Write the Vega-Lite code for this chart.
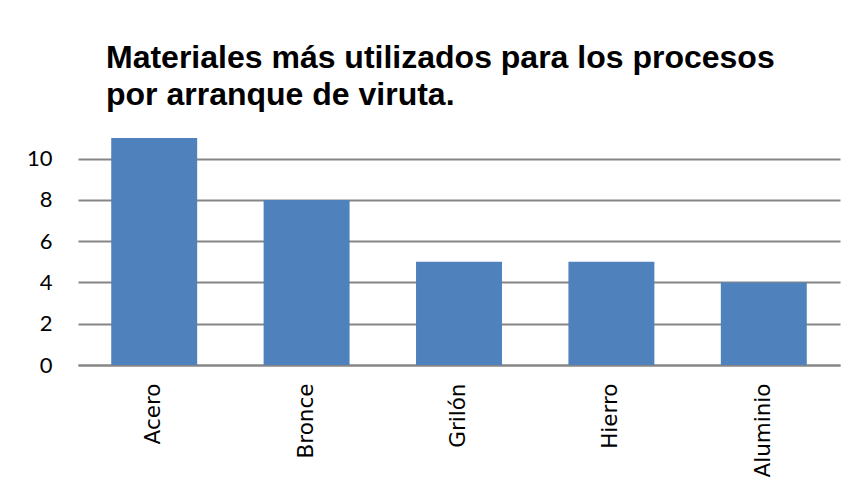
{
  "$schema": "https://vega.github.io/schema/vega-lite/v6.json",
  "width": 762,
  "height": 227,
  "autosize": "none",
  "padding": {"left": 78, "top": 138, "right": 18, "bottom": 124},
  "background": "white",
  "title": {
    "text": ["Materiales más utilizados para los procesos", "por arranque de viruta."],
    "anchor": "start",
    "frame": "group",
    "dx": 28,
    "font": "Liberation Sans",
    "fontSize": 32,
    "fontWeight": "bold",
    "color": "black",
    "lineHeight": 37,
    "baseline": "bottom",
    "offset": -6
  },
  "data": {
    "values": [
      {"Material": "Acero", "Cantidad": 11},
      {"Material": "Bronce", "Cantidad": 8},
      {"Material": "Grilón", "Cantidad": 5},
      {"Material": "Hierro", "Cantidad": 5},
      {"Material": "Aluminio", "Cantidad": 4}
    ]
  },
  "mark": {"type": "bar", "color": "#4F81BD"},
  "encoding": {
    "x": {
      "field": "Material",
      "type": "nominal",
      "sort": null,
      "scale": {"paddingInner": 0.436, "paddingOuter": 0.218},
      "axis": {
        "title": null,
        "labelAngle": -90,
        "labelAlign": "right",
        "labelBaseline": "middle",
        "labelFont": "DejaVu Sans",
        "labelFontSize": 21.5,
        "labelColor": "black",
        "ticks": false,
        "domainColor": "#868686",
        "domainWidth": 2,
        "labelPadding": 18,
        "grid": false
      }
    },
    "y": {
      "field": "Cantidad",
      "type": "quantitative",
      "scale": {"domain": [0, 11], "nice": false},
      "axis": {
        "title": null,
        "values": [0, 2, 4, 6, 8, 10],
        "domain": false,
        "ticks": false,
        "gridColor": "#868686",
        "gridWidth": 2,
        "labelFont": "Lato",
        "labelFontSize": 22,
        "labelColor": "black",
        "labelPadding": 26
      }
    }
  },
  "config": {"view": {"stroke": null}}
}
